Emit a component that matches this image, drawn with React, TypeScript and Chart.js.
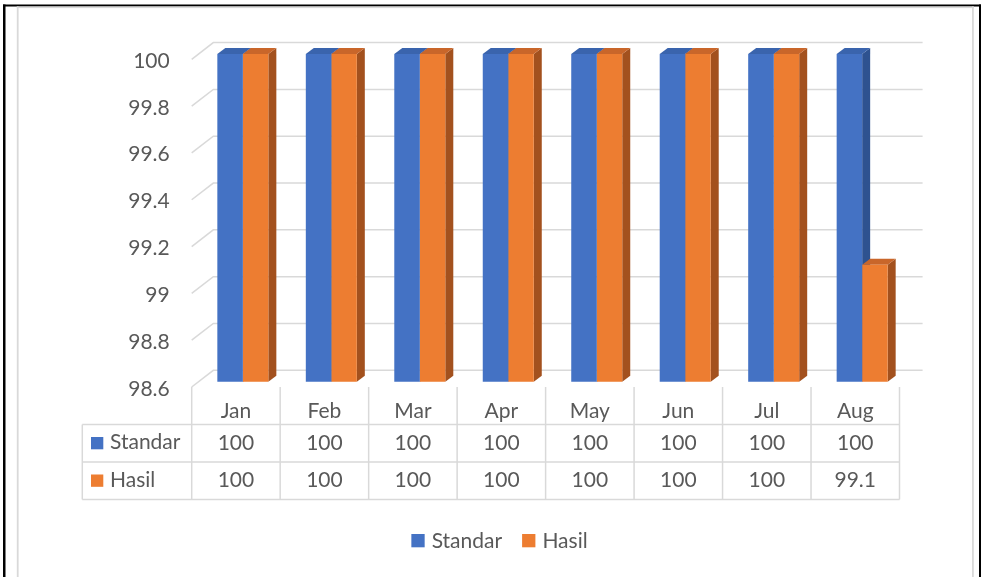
import React, { useEffect, useRef } from 'react';
import { Chart, registerables } from 'chart.js';

Chart.register(...registerables);

const categories = ['Jan', 'Feb', 'Mar', 'Apr', 'May', 'Jun', 'Jul', 'Aug'];
const standarValues = [100, 100, 100, 100, 100, 100, 100, 100];
const hasilValues = [100, 100, 100, 100, 100, 100, 100, 99.1];
const yTicks = [100, 99.8, 99.6, 99.4, 99.2, 99, 98.8, 98.6];
const seriesNames = ['Standar', 'Hasil'];

const FRONT_COLORS = ['#4472C4', '#ED7D31'];
const TOP_COLORS = ['#3A64AD', '#C9662A'];
const SIDE_COLORS = ['#2E5290', '#A3511E'];
const GRID = '#d9d9d9';
const TEXT = '#595959';
const FONT = 'Lato, "Noto Sans", sans-serif';

// 3D offsets relative to the bar (scale) plane
const FX = -6.9, FY = 5.3; // front wall
const BX = 14.7, BY = -11.4; // back wall
const DX = 8, DY = 6; // bar depth

const excelPlugin = {
  id: 'excel3d',
  beforeDraw(chart: any) {
    const ctx = chart.ctx;
    ctx.save();
    ctx.fillStyle = '#ffffff';
    ctx.fillRect(0, 0, chart.width, chart.height);
    ctx.fillStyle = '#000000';
    ctx.fillRect(3, 4.5, 978, 2);
    ctx.fillRect(3, 4.5, 2.5, 573);
    ctx.fillRect(979, 4.5, 2, 573);
    ctx.fillStyle = GRID;
    ctx.fillRect(16.8, 6.5, 1.8, 571);
    ctx.fillRect(16.8, 6.5, 957, 1.6);
    ctx.fillRect(972, 6.5, 1.8, 571);
    ctx.restore();
  },
  beforeDatasetsDraw(chart: any) {
    const { ctx, chartArea, scales } = chart;
    const y = scales.y;
    const frontL = chartArea.left + FX;
    const backL = chartArea.left + BX;
    const backR = chartArea.right + BX + 1.5;
    ctx.save();
    ctx.strokeStyle = GRID;
    ctx.lineWidth = 1.5;
    yTicks.forEach((v) => {
      const py = y.getPixelForValue(v);
      ctx.beginPath();
      ctx.moveTo(frontL, py + FY);
      ctx.lineTo(backL, py + BY);
      ctx.lineTo(backR, py + BY);
      ctx.stroke();
    });
    ctx.fillStyle = TEXT;
    ctx.font = `21px ${FONT}`;
    ctx.textAlign = 'right';
    ctx.textBaseline = 'alphabetic';
    yTicks.forEach((v) => {
      ctx.fillText(String(v), frontL - 22, y.getPixelForValue(v) + FY + 8.5);
    });

    const metas = chart.data.datasets.map((_: any, i: number) => chart.getDatasetMeta(i));
    for (let j = 0; j < categories.length; j++) {
      metas.forEach((meta: any, di: number) => {
        const el = meta.data[j];
        if (!el) return;
        const p = el.getProps(['x', 'y', 'base', 'width'], true);
        const l = p.x - p.width / 2;
        const r = p.x + p.width / 2;
        const top = Math.max(p.y, chartArea.top);
        const base = Math.min(p.base, chartArea.bottom);
        ctx.fillStyle = SIDE_COLORS[di];
        ctx.beginPath();
        ctx.moveTo(r, top);
        ctx.lineTo(r + DX, top - DY);
        ctx.lineTo(r + DX, base - DY);
        ctx.lineTo(r, base);
        ctx.closePath();
        ctx.fill();
        ctx.fillStyle = TOP_COLORS[di];
        ctx.beginPath();
        ctx.moveTo(l, top);
        ctx.lineTo(l + DX, top - DY);
        ctx.lineTo(r + DX, top - DY);
        ctx.lineTo(r, top);
        ctx.closePath();
        ctx.fill();
      });
    }
    ctx.restore();
  },
  afterDraw(chart: any) {
    const { ctx, chartArea, scales } = chart;
    const x = scales.x;
    const y = scales.y;
    const n = categories.length;
    const colW = chartArea.width / n;
    const frontL = chartArea.left + FX;
    const frontR = chartArea.right + FX;
    const headerTop = y.getPixelForValue(yTicks[yTicks.length - 1]) + FY;
    const rowH = 37.5;
    const row1 = headerTop + rowH;
    const row2 = row1 + rowH;
    const row3 = row2 + rowH;
    const legL = frontL - 109.4;

    ctx.save();
    ctx.strokeStyle = GRID;
    ctx.lineWidth = 1.5;
    [row1, row2, row3].forEach((ry) => {
      ctx.beginPath();
      ctx.moveTo(legL, ry);
      ctx.lineTo(frontR, ry);
      ctx.stroke();
    });
    ctx.beginPath();
    ctx.moveTo(legL, row1);
    ctx.lineTo(legL, row3);
    ctx.stroke();
    for (let k = 0; k <= n; k++) {
      const vx = frontL + k * colW;
      ctx.beginPath();
      ctx.moveTo(vx, headerTop);
      ctx.lineTo(vx, row3);
      ctx.stroke();
    }

    ctx.fillStyle = TEXT;
    ctx.font = `21px ${FONT}`;
    ctx.textAlign = 'center';
    ctx.textBaseline = 'alphabetic';
    const allValues = [standarValues, hasilValues];
    categories.forEach((c, i) => {
      const cx = x.getPixelForValue(i) + FX;
      ctx.fillText(c, cx, row1 - 7);
      ctx.fillText(String(allValues[0][i]), cx, row1 + 25);
      ctx.fillText(String(allValues[1][i]), cx, row2 + 25);
    });

    ctx.textAlign = 'left';
    [row1, row2].forEach((ry, di) => {
      ctx.fillStyle = FRONT_COLORS[di];
      ctx.fillRect(legL + 8.7, ry + 12.5, 12.3, 12.3);
      ctx.fillStyle = TEXT;
      ctx.fillText(chart.data.datasets[di].label, legL + 27.7, ry + 24.5);
    });

    const sq = 13.3;
    const gap1 = 7;
    const gap2 = 20;
    const widths = chart.data.datasets.map((d: any) => ctx.measureText(d.label).width);
    const total = sq + gap1 + widths[0] + gap2 + sq + gap1 + widths[1];
    let lx = 499.5 - total / 2;
    const ly = 548;
    chart.data.datasets.forEach((d: any, di: number) => {
      ctx.fillStyle = FRONT_COLORS[di];
      ctx.fillRect(lx, ly - 14, sq, sq);
      lx += sq + gap1;
      ctx.fillStyle = TEXT;
      ctx.fillText(d.label, lx, ly);
      lx += widths[di] + gap2;
    });
    ctx.restore();
  },
};

export default function App() {
  const canvasRef = useRef<HTMLCanvasElement | null>(null);

  useEffect(() => {
    if (!canvasRef.current) return;
    const chart = new Chart(canvasRef.current, {
      type: 'bar',
      data: {
        labels: categories,
        datasets: [
          {
            label: seriesNames[0],
            data: standarValues,
            backgroundColor: FRONT_COLORS[0],
            borderWidth: 0,
            categoryPercentage: 0.5765,
            barPercentage: 1,
          },
          {
            label: seriesNames[1],
            data: hasilValues,
            backgroundColor: FRONT_COLORS[1],
            borderWidth: 0,
            categoryPercentage: 0.5765,
            barPercentage: 1,
          },
        ],
      },
      options: {
        responsive: false,
        animation: false,
        devicePixelRatio: 1,
        layout: {
          padding: { left: 198.6, right: 74.6, top: 54, bottom: 195.3 },
        },
        plugins: {
          legend: { display: false },
          tooltip: { enabled: false },
        },
        scales: {
          x: { display: false },
          y: {
            display: false,
            min: 98.6,
            max: 100,
            ticks: { stepSize: 0.2 },
          },
        },
      },
      plugins: [excelPlugin],
    });
    return () => chart.destroy();
  }, []);

  return (
    <div style={{ position: 'absolute', left: 0, top: 0, width: 981, height: 577 }}>
      <canvas ref={canvasRef} width={981} height={577} style={{ display: 'block' }} />
    </div>
  );
}
